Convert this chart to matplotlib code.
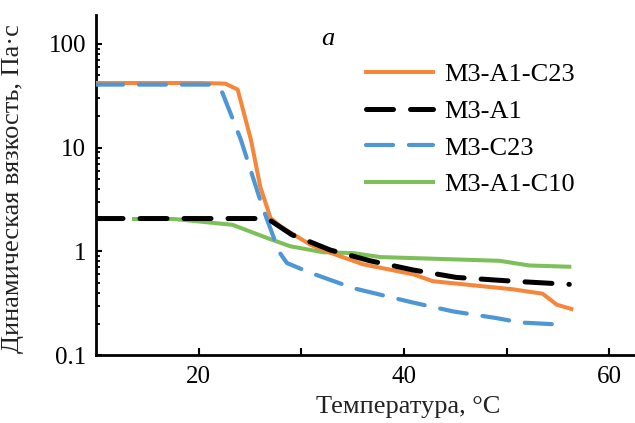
import numpy as np
import matplotlib
matplotlib.use("Agg")
import matplotlib.pyplot as plt
from matplotlib.ticker import LogLocator, NullFormatter

# readings from the picture (temperature, viscosity)
t_a1c23 = [10, 15, 20, 22.6, 23.8, 25.1, 26.0, 27.0, 28.0, 30.9, 32.8, 36.0, 40.9, 42.8, 50.6, 53.5, 54.9, 56.3]
v_a1c23 = [42, 42, 42, 41.4, 36.3, 11.8, 4.2, 2.09, 1.73, 1.155, 0.97, 0.75, 0.6, 0.515, 0.43, 0.39, 0.305, 0.278]

t_a1 = [10, 15, 20, 25, 26.7, 29.1, 30.2, 32.8, 36.7, 40.9, 45.1, 50.6, 56.1]
v_a1 = [2.07, 2.07, 2.07, 2.07, 2.07, 1.44, 1.31, 1.03, 0.81, 0.66, 0.56, 0.515, 0.48]

t_c23 = [10, 15, 21.3, 22.3, 24.1, 26.2, 27.8, 28.6, 30.9, 35.1, 40.9, 44.8, 49.0, 51.3, 55.8]
v_c23 = [40.5, 40.5, 40.5, 34, 12, 2.7, 1.0, 0.77, 0.62, 0.44, 0.32, 0.263, 0.227, 0.206, 0.195]

t_a1c10 = [13.7, 17.6, 23.3, 26.7, 28.9, 30.9, 32.1, 35.1, 37.7, 44.2, 49.3, 52.2, 56.1]
v_a1c10 = [2.05, 2.05, 1.8, 1.34, 1.12, 1.03, 0.98, 0.96, 0.88, 0.84, 0.81, 0.73, 0.71]

labels = ["М3-А1-С23", "М3-А1", "М3-С23", "М3-А1-С10"]

plt.rcParams['font.family'] = ['Liberation Serif', 'DejaVu Serif']
plt.rcParams['font.size'] = 18

fig = plt.figure(figsize=(6.35, 4.23), dpi=100)
ax = fig.add_axes([96/635, 1-355/423, 1-96/635, 340/423])

l_green, = ax.plot(t_a1c10, v_a1c10, color='#7DC05A', lw=2.9, zorder=2)
l_orange, = ax.plot(t_a1c23, v_a1c23, color='#F5863A', lw=2.9, zorder=3)
l_blue, = ax.plot(t_c23, v_c23, color='#4F97D4', lw=3, zorder=4,
                  dash_capstyle='round')
l_blue.set_dashes([6.5, 3.8])
l_black, = ax.plot(t_a1, v_a1, color='black', lw=3.6, zorder=5,
                   dash_capstyle='round')
l_black.set_dashes([5.4, 3.4])

ax.set_yscale('log')
ax.set_xlim(10, 62.5)
ax.set_ylim(0.1, 190)

ax.set_xticks([20, 30, 40, 50, 60])
ax.set_xticklabels(['20', '', '40', '', '60'])
ax.set_yticks([0.1, 1, 10, 100])
ax.set_yticklabels(['0.1', '1', '10', '100'])
ax.yaxis.set_minor_locator(LogLocator(base=10, subs=np.arange(2, 10)))
ax.yaxis.set_minor_formatter(NullFormatter())

ax.tick_params(axis='x', direction='in', length=5, width=1.5, pad=8)
ax.tick_params(axis='y', which='major', direction='in', length=4.5, width=1.5, pad=7)
ax.tick_params(axis='y', which='minor', direction='in', length=3, width=1.3)

for s in ['top', 'right']:
    ax.spines[s].set_visible(False)
for s in ['left', 'bottom']:
    ax.spines[s].set_linewidth(2)

ax.set_ylabel("Динамическая вязкость, Па·с", color='#222222', fontsize=19)
ax.yaxis.set_label_coords(-0.134, 0.49)
ax.set_xlabel("Температура, °С", color='#222222', fontsize=19)
ax.xaxis.set_label_coords(0.579, -0.12)

fig.text(328/635, 1-39/423, 'a', style='italic', ha='center', va='center', fontsize=19)

ax.legend([l_orange, l_black, l_blue, l_green], labels, frameon=False,
          loc='center left', bbox_to_anchor=(366/635, 1-129.5/423),
          bbox_transform=fig.transFigure, borderpad=0, borderaxespad=0,
          handlelength=2.55, handletextpad=0.4, labelspacing=0.5,
          fontsize=19)

fig.savefig("out.png", dpi=100)
